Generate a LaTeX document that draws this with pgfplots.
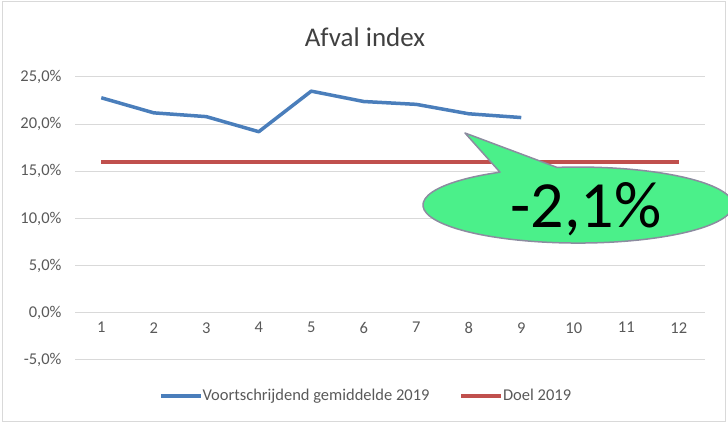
\documentclass[border=0pt]{standalone}
\usepackage{pgfplots}
\pgfplotsset{compat=1.18}
\usepackage{fontspec}
\setmainfont{Carlito}

\definecolor{serieblue}{RGB}{74,126,187}
\definecolor{doelred}{RGB}{192,80,77}
\definecolor{gridgray}{RGB}{217,217,217}
\definecolor{txtgray}{RGB}{89,89,89}
\definecolor{bubblegreen}{RGB}{75,240,138}
\definecolor{bubbleedge}{RGB}{140,140,160}

\begin{document}
\begin{tikzpicture}
\useasboundingbox (0,0) rectangle (728pt,423pt);
% chart frame
\draw[gridgray, line width=1pt] (2.5pt,1.5pt) rectangle (725.5pt,421.5pt);
\node[text=black!75, font=\fontsize{27}{32}\selectfont] at (365pt,386pt) {Afval index};

\begin{axis}[
  at={(75pt,63pt)}, anchor=south west,
  scale only axis, width=630pt, height=283pt,
  xmin=0.5, xmax=12.5, ymin=-5, ymax=25,
  axis x line*=middle, axis y line*=left,
  x axis line style={draw=none}, y axis line style={draw=none},
  major tick length=0pt,
  xtick={1,...,12},
  ytick={-5,0,5,10,15,20,25},
  yticklabels={{-5,0\%},{0,0\%},{5,0\%},{10,0\%},{15,0\%},{20,0\%},{25,0\%}},
  ymajorgrids, grid style={gridgray, line width=1pt},
  tick label style={font=\fontsize{16.5}{19}\selectfont, text=txtgray},
  /pgf/number format/assume math mode=true,
  yticklabel style={xshift=-10pt},
  xticklabel style={yshift=-6pt},
  legend style={draw=none, fill=none, at={(0.462,-0.127)}, anchor=center,
    legend columns=2, font=\fontsize{16.5}{19}\selectfont, text=txtgray,
    /tikz/every even column/.append style={column sep=28pt},
    /tikz/every odd column/.append style={column sep=-2pt}},
  legend image code/.code={\draw[#1, line width=3.5pt] (0pt,0pt) -- (40pt,0pt);},
]
\addplot[serieblue, line width=3.5pt, line join=round] coordinates {
  (1,22.8) (2,21.2) (3,20.8) (4,19.2) (5,23.5) (6,22.4) (7,22.1) (8,21.1) (9,20.7)};
\addlegendentry{Voortschrijdend gemiddelde 2019}
\addplot[doelred, line width=3.5pt] coordinates {
  (1,16) (2,16) (3,16) (4,16) (5,16) (6,16) (7,16) (8,16) (9,16) (10,16) (11,16) (12,16)};
\addlegendentry{Doel 2019}
\end{axis}

% callout
\filldraw[fill=bubblegreen, draw=bubbleedge, line width=1.5pt, line join=round]
  (500pt,250.8pt) arc[start angle=120.2, end angle=457.8, x radius=155pt, y radius=38pt]
  -- (465pt,290pt) -- cycle;
\node[anchor=base, font=\fontsize{66}{70}\selectfont] at (586pt,195pt) {-2,1\%};
\end{tikzpicture}
\end{document}
